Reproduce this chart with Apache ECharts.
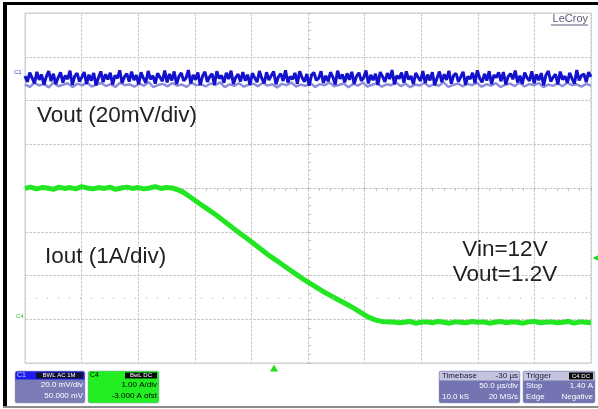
<!DOCTYPE html>
<html><head><meta charset="utf-8">
<script src="https://cdn.jsdelivr.net/npm/echarts@6/dist/echarts.min.js"></script>
<style>html,body{margin:0;padding:0;background:#fff}#c{width:598px;height:409px}</style>
</head><body><div id="c"></div>
<script>
// ---- scope settings ----
const timeLeftUs = -220;      // left edge of screen, µs relative to trigger
const usPerDiv = 50;          // timebase 50.0 µs/div
const voutMvPerDiv = 20;      // C1 20.0 mV/div
const voutOffsetMv = 50;      // C1 offset 50.000 mV
const ioutAPerDiv = 1;        // C4 1.00 A/div
const ioutOffsetA = -3;       // C4 -3.000 A ofst
const triggerLevelA = 1.40;   // trigger level, negative edge on C4
const triggerTimeUs = 0;

// Vout (AC coupled ripple, mV) – hand-read noise band, evenly sampled across the screen
const voutMv = [
 1.2,-1.5,2.8,0.3,-2.2,3.1,-0.6,1.9,-2.8,0.9,3.4,-1.1,2.2,-2.5,0.5,2.9,-1.8,1.4,-0.2,3.6,
 -2.9,1.1,2.5,-1.3,0.7,3.0,-2.4,1.8,-0.9,2.6,-3.1,0.4,3.3,-1.6,2.0,-0.4,2.7,-2.7,1.5,0.1,
 3.8,-2.0,0.8,2.3,-1.4,3.2,-0.7,1.6,-2.6,2.9,0.2,-1.9,3.5,-0.3,1.3,-2.3,2.4,0.6,-1.2,3.7,
 -1.7,2.1,-0.8,3.3,-2.5,1.0,2.6,-1.0,0.3,3.9,-2.2,1.7,-0.5,2.8,-3.0,1.2,3.1,-1.5,0.9,2.2,
 -2.8,3.4,0.0,1.5,-1.9,2.7,-0.2,3.6,-2.4,0.6,2.0,-1.3,3.0,-0.9,1.8,-2.9,2.5,0.4,-1.6,3.5,
 0.1,-2.1,2.9,-0.6,1.4,3.2,-2.6,0.8,2.3,-1.1,3.8,-1.8,1.0,-0.3,2.6,-2.3,3.3,0.5,-1.4,2.1,
 -3.2,1.6,2.8,-0.8,0.2,3.4,-2.0,1.3,-1.2,2.9,0.7,-2.7,3.6,-0.1,1.9,-1.7,2.4,-0.5,3.1,-2.4,
 1.1,2.7,-1.0,0.4,3.7,-2.2,1.7,-0.7,2.2,-2.9,3.0,0.9,-1.5,2.5,-0.2,3.9,-2.6,1.4,0.0,2.8,
 -1.9,3.3,-0.4,1.2,-2.5,2.6,0.6,-1.1,3.5,-2.0,1.8,-0.8,2.9,-3.0,0.3,3.2,-1.6,2.0,-0.6,3.6,
 -2.3,1.5,2.4,-1.4,0.8,3.1,-2.8,1.0,-0.1,2.7,-2.1,3.8,0.2,-1.7,2.2,-0.9,3.4,-2.5,1.6,0.5,
 2.9,-1.2,3.0,-2.7,0.9,2.3,-0.3,3.7,-1.8,1.3,-2.4,2.8,0.4,-1.0,3.3,-2.2,1.9,-0.7,2.5,-3.1,
 1.7,3.5,-1.3,0.6,2.0,-2.6,3.2,-0.4,1.1,-1.9,2.6,0.0,-2.3,3.9,-0.8,1.4,2.1,-1.6,3.0,0.8
];
// lighter (persistence) lower edge of the Vout band, mV
const voutLowMv = [
 -2.6,-3.8,-1.9,-3.2,-2.4,-4.0,-1.7,-3.5,-2.8,-2.1,-3.9,-2.3,-3.1,-1.8,-3.6,-2.7,-2.0,-3.4,-2.5,-3.8,
 -1.9,-3.0,-2.6,-3.7,-2.2,-3.3,-1.6,-3.9,-2.9,-2.4,-3.5,-2.0,-3.2,-2.7,-3.8,-1.8,-3.1,-2.5,-3.6,-2.2,
 -3.0,-1.7,-3.9,-2.6,-3.3,-2.1,-3.7,-2.8,-2.3,-3.5,-1.9,-3.2,-2.6,-4.0,-2.4,-3.0,-1.8,-3.6,-2.7,-3.3,
 -2.0,-3.8,-2.5,-3.1,-1.7,-3.5,-2.9,-2.2,-3.9,-2.4,-3.2,-1.9,-3.6,-2.8,-2.1,-3.7,-2.6,-3.0,-1.8,-3.4,
 -2.3,-3.9,-2.7,-3.1,-2.0,-3.6,-2.5,-3.3,-1.7,-3.8,-2.9,-2.2,-3.5,-2.4,-3.0,-1.9,-3.7,-2.6,-3.2,-2.1,
 -3.8,-2.8,-2.3,-3.4,-1.8,-3.6,-2.5,-3.1,-2.0,-3.9,-2.7,-3.3,-2.2,-3.5,-1.9,-3.0,-2.6,-3.7,-2.4,-3.2
];

// Iout (A), sampled every 5 µs from -220 µs to +280 µs
const ioutStartUs = -220, ioutStepUs = 5;
const ioutA = [
 2.99,3.02,2.98,3.01,3.00,2.97,3.02,2.99,3.01,2.98,3.03,3.00,2.98,3.01,2.99,3.02,2.97,3.00,3.02,2.99,3.01,2.98,3.00,3.03,2.99,3.01,3.00,
 2.96,2.90,2.81,2.72,2.63,2.54,2.45,2.36,2.26,2.16,2.06,1.96,1.87,1.77,1.67,1.57,1.47,1.38,1.29,1.20,1.11,1.02,0.93,0.85,0.77,0.69,0.61,0.54,0.47,0.40,0.33,0.26,0.18,0.10,0.03,-0.02,-0.05,-0.06,
 -0.06,-0.08,-0.07,-0.05,-0.09,-0.07,-0.06,-0.08,-0.05,-0.07,-0.09,-0.06,-0.07,-0.08,-0.05,-0.07,-0.06,-0.09,-0.07,-0.05,-0.08,-0.06,-0.07,-0.09,-0.06,-0.05,-0.08,-0.07,-0.06,-0.08,-0.07,-0.05,-0.09,-0.06,-0.07,-0.08
];

// ---- mapping of physical units to screen divisions ----
const xDiv = t => (t - timeLeftUs) / usPerDiv;
const vDiv = v => 4 + (v + voutOffsetMv) / voutMvPerDiv;
const iDiv = a => 4 + (a + ioutOffsetA) / ioutAPerDiv;
const spanUs = 10 * usPerDiv;

const voutData = voutMv.map((v, i) => [xDiv(timeLeftUs + i * spanUs / (voutMv.length - 1)), vDiv(v)]);
const voutLowData = voutLowMv.map((v, i) => [xDiv(timeLeftUs + i * spanUs / (voutLowMv.length - 1)), vDiv(v)]);
const ioutData = ioutA.map((a, i) => [xDiv(ioutStartUs + i * ioutStepUs), iDiv(a)]);

const G = {left: 25, right: 7, top: 13, bottom: 46};
const W = 598, H = 409;
const gw = W - G.left - G.right, gh = H - G.top - G.bottom;
const FONT = 'Liberation Sans, Arial, sans-serif';
const gridColor = '#cdcdcd';

function panel(x, y, w, h, bg) {
  return {type: 'rect', shape: {x, y, width: w, height: h, r: 2}, style: {fill: bg, stroke: '#9a9ac0', lineWidth: 0.5}, z: 10};
}
function txt(x, y, s, opt) {
  return Object.assign({type: 'text', x, y, z: 12, style: Object.assign({text: s, font: '8px ' + FONT, fill: '#fff', textVerticalAlign: 'middle'}, opt || {})});
}

const chart = echarts.init(document.getElementById('c'), null, {renderer: 'canvas'});
chart.setOption({
  animation: false,
  backgroundColor: '#ffffff',
  grid: {left: G.left, right: G.right, top: G.top, bottom: G.bottom, show: true, borderColor: gridColor, borderWidth: 1},
  xAxis: [
    {type: 'value', min: 0, max: 10, interval: 1, axisLine: {show: false}, axisTick: {show: false}, axisLabel: {show: false},
     splitLine: {show: true, lineStyle: {color: gridColor, type: [3, 1], width: 1}}},
    {type: 'value', min: 0, max: 10, interval: 1, position: 'top', offset: -gh / 2, axisLine: {show: false},
     axisTick: {show: true, inside: true, length: 3, lineStyle: {color: '#bdbdbd'}},
     minorTick: {show: true, splitNumber: 5, length: 3, lineStyle: {color: '#c4c4c4'}},
     axisLabel: {show: false}, splitLine: {show: false}}
  ],
  yAxis: [
    {type: 'value', min: 0, max: 8, interval: 1, axisLine: {show: false}, axisTick: {show: false}, axisLabel: {show: false},
     splitLine: {show: true, lineStyle: {color: gridColor, type: [3, 1], width: 1}}},
    {type: 'value', min: 0, max: 8, interval: 1, position: 'left', offset: -gw / 2, axisLine: {show: false},
     axisTick: {show: true, inside: true, length: 3, lineStyle: {color: '#bdbdbd'}},
     minorTick: {show: true, splitNumber: 5, length: 3, lineStyle: {color: '#c4c4c4'}},
     axisLabel: {show: false}, splitLine: {show: false}}
  ],
  series: [
    {name: 'Vout persistence', type: 'line', data: voutLowData, showSymbol: false, symbol: 'none',
     lineStyle: {color: '#8e8edc', width: 2.5}, z: 2},
    {name: 'Vout', type: 'line', data: voutData, showSymbol: false, symbol: 'none',
     lineStyle: {color: '#1212cc', width: 3}, z: 3},
    {name: 'Iout', type: 'line', data: ioutData, showSymbol: false, symbol: 'none',
     lineStyle: {color: '#22e622', width: 5}, z: 4,
     markLine: {silent: true, symbol: 'none', label: {show: false},
       lineStyle: {color: '#c8c8c8', type: [1, 10], width: 1.5},
       data: [{yAxis: 1.5}]},
     markPoint: {silent: true, label: {show: false},
       data: [
         {coord: [10, iDiv(triggerLevelA)], symbol: 'triangle', symbolSize: [7, 7], symbolRotate: 90, symbolOffset: [5, 0], itemStyle: {color: '#22dd22'}},
         {coord: [xDiv(triggerTimeUs), 0], symbol: 'triangle', symbolSize: [8, 7], symbolOffset: [0, 5], itemStyle: {color: '#22dd22'}}
       ]}}
  ],
  graphic: [
    // outer scope frame
    {type: 'rect', shape: {x: 3, y: 2, width: 4, height: 404}, style: {fill: '#000'}, z: 20},
    {type: 'rect', shape: {x: 3, y: 2, width: 595, height: 3}, style: {fill: '#000'}, z: 20},
    {type: 'rect', shape: {x: 3, y: 406, width: 595, height: 2}, style: {fill: '#8c8c8c'}, z: 20},
    // annotations
    {type: 'text', x: 37, y: 116, z: 15, style: {text: 'Vout (20mV/div)', font: '22.5px ' + FONT, fill: '#222', textVerticalAlign: 'middle'}},
    {type: 'text', x: 45, y: 257, z: 15, style: {text: 'Iout (1A/div)', font: '22.5px ' + FONT, fill: '#222', textVerticalAlign: 'middle'}},
    {type: 'text', x: 505, y: 250, z: 15, style: {text: 'Vin=12V', font: '22.5px ' + FONT, fill: '#222', textAlign: 'center', textVerticalAlign: 'middle'}},
    {type: 'text', x: 505, y: 275, z: 15, style: {text: 'Vout=1.2V', font: '22.5px ' + FONT, fill: '#222', textAlign: 'center', textVerticalAlign: 'middle'}},
    {type: 'text', x: 588, y: 19, z: 15, style: {text: 'LeCroy', font: '11px ' + FONT, fill: '#5a5a78', textAlign: 'right', textVerticalAlign: 'middle'}},
    {type: 'line', shape: {x1: 551, y1: 25, x2: 588, y2: 25}, style: {stroke: '#5a5a78', lineWidth: 1}, z: 15},
    // channel markers
    {type: 'text', x: 14, y: 72, z: 15, style: {text: 'C1', font: '6px ' + FONT, fill: '#3030e0', textVerticalAlign: 'middle'}},
    {type: 'text', x: 16, y: 316, z: 15, style: {text: 'C4', font: '6px ' + FONT, fill: '#30c030', textVerticalAlign: 'middle'}},
    // C1 panel
    panel(15, 371, 70, 32, '#7b7bb6'),
    {type: 'rect', shape: {x: 15.5, y: 371.5, width: 69, height: 8, r: [2, 2, 0, 0]}, style: {fill: '#1c1cf0'}, z: 11},
    {type: 'rect', shape: {x: 36, y: 372.5, width: 47, height: 6}, style: {fill: '#101030'}, z: 11},
    txt(17, 375.5, 'C1', {font: '7px ' + FONT, fill: '#d0d0ff'}),
    txt(59, 375.5, 'BWL AC 1M', {font: '6px ' + FONT, fill: '#ffffff', textAlign: 'center'}),
    txt(83, 385, '20.0 mV/div', {textAlign: 'right'}),
    txt(83, 395.5, '50.000 mV', {textAlign: 'right'}),
    // C4 panel
    panel(88, 371, 71, 32, '#22ee22'),
    {type: 'rect', shape: {x: 125, y: 372.5, width: 32, height: 6}, style: {fill: '#0a0a0a'}, z: 11},
    txt(90, 375.5, 'C4', {font: '7px ' + FONT, fill: '#000'}),
    txt(141, 375.5, 'BwL DC', {font: '6px ' + FONT, fill: '#ffffff', textAlign: 'center'}),
    txt(157, 385, '1.00 A/div', {textAlign: 'right', fill: '#000'}),
    txt(157, 395.5, '-3.000 A ofst', {textAlign: 'right', fill: '#000'}),
    // Timebase panel
    panel(439, 371, 81, 32, '#7474b2'),
    {type: 'rect', shape: {x: 439.5, y: 371.5, width: 80, height: 9, r: [2, 2, 0, 0]}, style: {fill: '#c4c4de'}, z: 11},
    txt(442, 376, 'Timebase', {fill: '#202040'}),
    txt(518, 376, '-30 µs', {fill: '#202040', textAlign: 'right'}),
    txt(518, 386, '50.0 µs/div', {textAlign: 'right'}),
    txt(442, 396.5, '10.0 kS', {}),
    txt(518, 396.5, '20 MS/s', {textAlign: 'right'}),
    // Trigger panel
    panel(523, 371, 72, 32, '#7474b2'),
    {type: 'rect', shape: {x: 523.5, y: 371.5, width: 71, height: 9, r: [2, 2, 0, 0]}, style: {fill: '#c4c4de'}, z: 11},
    {type: 'rect', shape: {x: 569, y: 372.5, width: 24, height: 7}, style: {fill: '#0a0a0a'}, z: 11},
    txt(526, 376, 'Trigger', {fill: '#202040'}),
    txt(581, 376, 'C4 DC', {font: '6px ' + FONT, fill: '#fff', textAlign: 'center'}),
    txt(526, 386, 'Stop', {}),
    txt(593, 386, '1.40 A', {textAlign: 'right'}),
    txt(526, 396.5, 'Edge', {}),
    txt(593, 396.5, 'Negative', {textAlign: 'right'})
  ]
});
</script></body></html>
